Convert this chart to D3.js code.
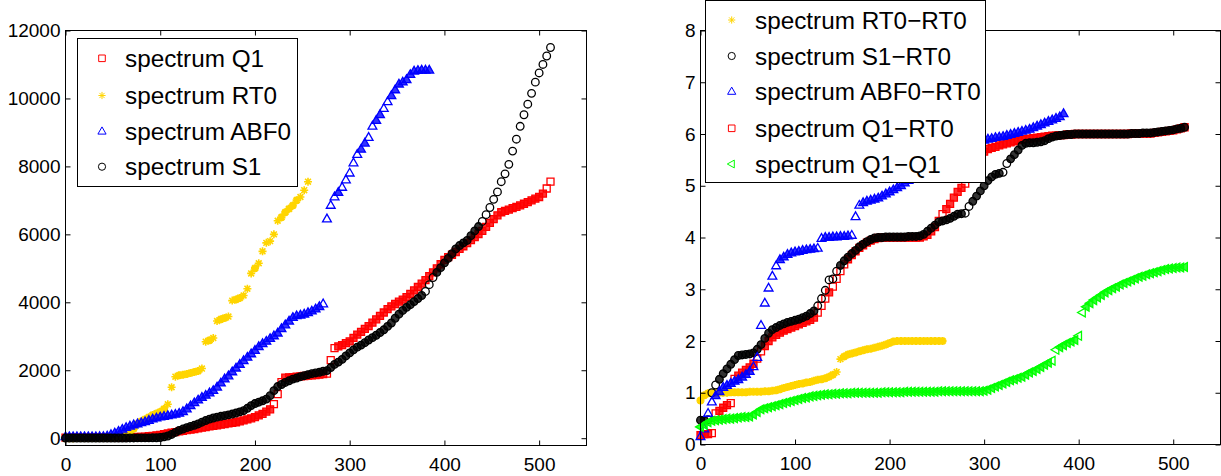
<!DOCTYPE html>
<html><head><meta charset="utf-8">
<script src="https://cdn.jsdelivr.net/npm/d3@7"></script>
<style>
body{margin:0;background:#fff}
svg{display:block}
text{font-family:"Liberation Sans",Arial,Helvetica,sans-serif;fill:#000}
</style>
</head><body>
<svg id="c" width="1221" height="476"></svg>
<script>
// ---------- data (index step 4) ----------
const STEP = 4;
const xTicks = [0,100,200,300,400,500];
const yTicksLeft = [0,2000,4000,6000,8000,10000,12000];
const yTicksRight = [0,1,2,3,4,5,6,7,8];

const leftNames = ["spectrum Q1","spectrum RT0","spectrum ABF0","spectrum S1"];
const rightNames = ["spectrum RT0\u2212RT0","spectrum S1\u2212RT0","spectrum ABF0\u2212RT0","spectrum Q1\u2212RT0","spectrum Q1\u2212Q1"];

const leftQ1 = [
15,15,15,15,18,18,18,20,20,20,20,22,22,25,25,25,
28,30,32,35,40,48,58,70,85,100,120,140,160,180,200,215,
235,255,270,290,310,325,345,360,380,400,415,435,450,470,495,525,
555,585,620,670,715,780,850,1000,1300,1650,1780,1790,1800,1810,1820,1830,
1840,1850,1860,1870,1885,1900,2300,2650,2700,2740,2800,2850,2950,3050,3130,3220,
3300,3400,3500,3600,3700,3800,3880,3950,4020,4080,4150,4250,4350,4450,4550,4650,
4770,4880,5000,5120,5250,5330,5400,5480,5570,5650,5740,5830,5920,6010,6100,6220,
6340,6450,6560,6650,6690,6730,6770,6810,6850,6900,6950,7000,7050,7100,7200,7350,
7550];
const leftRT0 = [
0,0,2,3,4,5,6,7,8,9,10,15,22,30,45,60,
110,170,280,420,500,560,620,680,730,780,860,1000,1500,1810,1850,1870,
1890,1920,1950,1980,2050,2840,2880,2950,3450,3500,3540,3580,4050,4080,4130,4200,
4400,4850,5000,5150,5500,5750,5800,6000,6400,6500,6650,6750,6850,7000,7100,7300,
7550];
const leftABF0 = [
40,40,40,40,40,40,40,40,40,42,45,60,100,150,200,260,
310,350,390,420,450,480,520,560,590,620,640,660,680,700,730,780,
860,950,1040,1120,1200,1260,1330,1400,1500,1620,1740,1830,1950,2060,2170,2280,
2380,2480,2580,2690,2780,2850,2930,3010,3090,3220,3330,3440,3550,3600,3620,3650,
3690,3740,3800,3870,3950,6450,6850,7100,7230,7380,7600,7800,8100,8350,8500,8680,
8850,9180,9350,9520,9700,9900,10080,10250,10420,10480,10550,10700,10800,10820,10830,10830,
10830];
const leftS1 = [
5,5,5,5,5,5,5,5,5,5,5,5,5,5,6,6,
6,7,7,8,8,9,10,11,12,20,40,65,110,170,230,270,
310,345,380,420,470,520,560,595,620,645,665,685,710,740,775,810,
880,960,1020,1060,1100,1150,1250,1400,1520,1580,1640,1690,1740,1770,1810,1840,
1870,1900,1920,1940,1970,1990,2080,2170,2240,2320,2420,2510,2600,2680,2740,2810,
2890,2960,3030,3110,3190,3290,3390,3530,3650,3760,3850,3930,4020,4110,4200,4320,
4520,4730,4880,5020,5160,5290,5430,5570,5670,5750,5820,5960,6100,6230,6380,6580,
6790,7030,7250,7550,7780,8060,8450,8800,9180,9520,9830,10150,10480,10750,11000,11250,
11500];

const rRT0RT0 = [
0.85,0.95,0.99,0.99,1.0,1.0,1.0,1.0,1.01,1.01,1.01,1.01,1.01,1.02,1.02,1.02,
1.02,1.03,1.03,1.04,1.05,1.07,1.09,1.11,1.13,1.15,1.17,1.18,1.2,1.21,1.23,1.25,
1.26,1.28,1.31,1.35,1.4,1.65,1.7,1.74,1.76,1.78,1.8,1.82,1.84,1.85,1.87,1.89,
1.91,1.93,1.96,1.99,2.0,2.0,2.0,2.0,2.0,2.0,2.0,2.0,2.0,2.0,2.0,2.0,
2.0];
const rS1RT0 = [
0.47,0.47,0.48,1.0,1.15,1.26,1.37,1.46,1.55,1.64,1.72,1.73,1.74,1.75,1.77,1.84,
1.93,2.05,2.15,2.22,2.26,2.3,2.33,2.36,2.38,2.4,2.42,2.45,2.48,2.53,2.58,2.68,
2.82,2.98,3.18,3.2,3.35,3.46,3.55,3.62,3.69,3.75,3.82,3.87,3.92,3.96,3.99,4.0,
4.0,4.01,4.01,4.01,4.01,4.01,4.01,4.02,4.02,4.02,4.03,4.06,4.12,4.18,4.24,4.3,
4.32,4.34,4.37,4.41,4.45,4.46,4.47,4.6,4.7,4.8,4.9,5.0,5.1,5.17,5.22,5.24,
5.26,5.43,5.52,5.6,5.69,5.78,5.82,5.83,5.83,5.84,5.85,5.87,5.91,5.94,5.96,5.97,
5.98,5.99,5.99,6.0,6.0,6.0,6.0,6.0,6.0,6.0,6.0,6.0,6.0,6.0,6.0,6.0,
6.0,6.0,6.01,6.01,6.01,6.02,6.02,6.02,6.03,6.04,6.05,6.06,6.07,6.08,6.1,6.11,
6.13];
const rABF0RT0 = [
0.15,0.3,0.6,0.82,0.94,1.02,1.1,1.14,1.18,1.22,1.25,1.3,1.35,1.41,1.5,1.68,
2.3,2.73,3.02,3.25,3.45,3.57,3.62,3.67,3.7,3.72,3.73,3.75,3.76,3.77,3.78,3.79,
3.98,4.0,4.0,4.01,4.01,4.02,4.02,4.03,4.04,4.4,4.62,4.67,4.7,4.72,4.74,4.76,
4.8,4.84,4.88,4.92,4.96,5.0,5.05,5.1,5.16,5.22,5.28,5.34,5.4,5.44,5.48,5.52,
5.56,5.6,5.64,5.68,5.72,5.76,5.8,5.82,5.84,5.85,5.87,5.88,5.9,5.91,5.93,5.94,
5.95,5.97,5.99,6.01,6.03,6.05,6.07,6.09,6.12,6.15,6.18,6.21,6.24,6.27,6.3,6.33,
6.39];
const rQ1RT0 = [
0.18,0.2,0.2,0.22,0.6,0.65,0.71,0.76,0.8,1.27,1.33,1.39,1.44,1.49,1.56,1.66,
1.8,1.9,2.0,2.07,2.12,2.16,2.2,2.23,2.26,2.29,2.32,2.35,2.38,2.41,2.45,2.55,
2.68,2.82,2.94,3.05,3.2,3.35,3.48,3.58,3.66,3.73,3.8,3.85,3.9,3.94,3.97,3.99,
4.0,4.0,4.0,4.0,4.0,4.0,4.0,4.0,4.0,4.0,4.0,4.02,4.05,4.12,4.2,4.32,
4.45,4.55,4.65,4.77,4.88,4.96,5.04,5.17,5.3,5.43,5.55,5.66,5.71,5.73,5.75,5.78,
5.8,5.82,5.84,5.86,5.88,5.89,5.9,5.91,5.92,5.93,5.94,5.95,5.96,5.97,5.97,5.98,
5.98,5.99,5.99,6.0,6.0,6.0,6.0,6.0,6.0,6.0,6.0,6.0,6.0,6.0,6.0,6.0,
6.0,6.0,6.01,6.01,6.01,6.01,6.01,6.01,6.02,6.03,6.04,6.05,6.06,6.07,6.09,6.11,
6.13];
const rQ1Q1 = [
0.34,0.38,0.43,0.46,0.47,0.48,0.49,0.5,0.5,0.51,0.52,0.53,0.53,0.54,0.58,0.63,
0.68,0.7,0.72,0.74,0.76,0.78,0.8,0.82,0.84,0.86,0.88,0.9,0.91,0.93,0.94,0.95,
0.96,0.97,0.97,0.98,0.98,0.99,0.99,0.99,1.0,1.0,1.0,1.0,1.0,1.0,1.0,1.0,
1.01,1.01,1.01,1.01,1.01,1.01,1.02,1.02,1.02,1.02,1.02,1.02,1.02,1.02,1.02,1.03,
1.03,1.03,1.03,1.03,1.03,1.03,1.03,1.03,1.03,1.03,1.03,1.04,1.06,1.09,1.12,1.15,
1.18,1.21,1.24,1.26,1.29,1.31,1.35,1.39,1.42,1.46,1.5,1.54,1.58,1.62,1.83,1.88,
1.92,1.96,1.99,2.02,2.1,2.55,2.66,2.73,2.79,2.84,2.89,2.94,2.98,3.02,3.05,3.09,
3.12,3.15,3.18,3.21,3.24,3.26,3.29,3.31,3.33,3.35,3.37,3.39,3.4,3.41,3.42,3.42,
3.43];

// ---------- drawing ----------
const svg = d3.select("#c");
const FS = 19;      // tick label size
const LFS = 24.3;   // legend font size
const MW = 1.3;     // marker stroke width in plot
const FILL_OP = 0.8; // dense overlapping hollow markers read as solid bands
const GAP = 7.5;    // px: markers farther apart than this stay hollow

const shapes = {
  square: "M-3.5,-3.5H3.5V3.5H-3.5Z",
  star: "M-4,0H4M0,-4V4M-2.9,-2.9L2.9,2.9M-2.9,2.9L2.9,-2.9",
  triUp: "M0,-4.9L4.4,2.8L-4.4,2.8Z",
  triLeft: "M-4.9,0L2.8,-4.4L2.8,4.4Z",
  circle: d3.symbol(d3.symbolCircle, Math.PI*3.8*3.8)()
};
const legendShapes = {
  square: "M-3.3,-3.3H3.3V3.3H-3.3Z",
  star: "M-3.6,0H3.6M0,-3.6V3.6M-2.6,-2.6L2.6,2.6M-2.6,2.6L2.6,-2.6",
  triUp: "M0,-4.6L4.1,2.6L-4.1,2.6Z",
  triLeft: "M-4.4,0L2.6,-3.9L2.6,3.9Z",
  circle: d3.symbol(d3.symbolCircle, Math.PI*3.6*3.6)()
};

function makeAxes(box, xDom, yDom) {
  const x = d3.scaleLinear().domain(xDom).range([box.l, box.r]);
  const y = d3.scaleLinear().domain(yDom).range([box.b, box.t]);
  const g = svg.append("g");
  return {x, y, g};
}

function finishAxes(ax, box, yTicks) {
  const {x, y} = ax;
  const g = svg.append("g");
  const TL = 5;
  const fmt = d3.format("d");
  g.append("g").attr("transform", `translate(0,${box.b})`)
    .call(d3.axisBottom(x).tickValues(xTicks).tickFormat(fmt).tickSize(-TL).tickPadding(TL+7).tickSizeOuter(0))
    .call(s => s.select(".domain").remove());
  g.append("g").attr("transform", `translate(0,${box.t})`)
    .call(d3.axisTop(x).tickValues(xTicks).tickSize(-TL).tickFormat("").tickSizeOuter(0))
    .call(s => s.select(".domain").remove());
  g.append("g").attr("transform", `translate(${box.l},0)`)
    .call(d3.axisLeft(y).tickValues(yTicks).tickFormat(fmt).tickSize(-TL).tickPadding(5).tickSizeOuter(0))
    .call(s => s.select(".domain").remove());
  g.append("g").attr("transform", `translate(${box.r},0)`)
    .call(d3.axisRight(y).tickValues(yTicks).tickSize(-TL).tickFormat("").tickSizeOuter(0))
    .call(s => s.select(".domain").remove());
  g.selectAll(".tick line").attr("stroke", "#000").attr("stroke-width", 1);
  g.selectAll("text").attr("font-size", FS).attr("font-family", '"Liberation Sans",Arial,sans-serif').attr("fill", "#000");
  g.append("rect").attr("x", box.l).attr("y", box.t)
    .attr("width", box.r - box.l).attr("height", box.b - box.t)
    .attr("fill", "none").attr("stroke", "#000").attr("stroke-width", 1);
  return g;
}

function drawSeries(ax, vals, shape, color) {
  const isStar = shape === "star";
  const pts = vals.map((v, i) => [ax.x(i*STEP), ax.y(v)]);
  const dist = (a, b) => Math.hypot(a[0]-b[0], a[1]-b[1]);
  const sparse = pts.map((p, i) => {
    const dp = i > 0 ? dist(p, pts[i-1]) : 0;
    const dn = i < pts.length-1 ? dist(p, pts[i+1]) : 0;
    return Math.max(dp, dn) > GAP;
  });
  ax.g.append("g").selectAll("path").data(pts).join("path")
    .attr("d", shapes[shape])
    .attr("transform", p => `translate(${p[0]},${p[1]})`)
    .attr("fill", (p, i) => (isStar || sparse[i]) ? "none" : color)
    .attr("fill-opacity", FILL_OP)
    .attr("stroke", color)
    .attr("stroke-width", (p, i) => isStar ? (sparse[i] ? 1.6 : 2.4) : MW);
}

function drawLegend(box, names, specs, rowY, markX, textX) {
  const g = svg.append("g");
  g.append("rect").attr("x", box.x).attr("y", box.y).attr("width", box.w).attr("height", box.h)
    .attr("fill", "#fff").attr("stroke", "#000").attr("stroke-width", 1);
  names.forEach((n, k) => {
    const cy = rowY[k];
    g.append("path").attr("d", legendShapes[specs[k].shape])
      .attr("transform", `translate(${markX},${cy})`)
      .attr("fill", "none").attr("stroke", specs[k].color).attr("stroke-width", 1);
    g.append("text").attr("x", textX).attr("y", cy + 8.6)
      .attr("font-size", LFS).text(n);
  });
}

const RED = "#ff0000", YEL = "#ffd500", BLUE = "#0000ff", BLK = "#000000", GRN = "#00ff00";

// left plot
const boxL = {l: 65.5, r: 586.5, t: 30.5, b: 445.5};
const axL = makeAxes(boxL, [0,550], [-215,12000]);
drawSeries(axL, leftQ1, "square", RED);
drawSeries(axL, leftRT0, "star", YEL);
drawSeries(axL, leftABF0, "triUp", BLUE);
drawSeries(axL, leftS1, "circle", BLK);
finishAxes(axL, boxL, yTicksLeft);
drawLegend({x:77.5, y:38.5, w:220, h:148}, leftNames,
  [{shape:"square",color:RED},{shape:"star",color:YEL},{shape:"triUp",color:BLUE},{shape:"circle",color:BLK}],
  [58.3, 95.5, 131.5, 166.7], 102, 125);

// right plot
const boxR = {l: 700.5, r: 1220.5, t: 30.5, b: 444.5};
const axR = makeAxes(boxR, [0,550], [0,8]);
drawSeries(axR, rRT0RT0, "star", YEL);
drawSeries(axR, rQ1RT0, "square", RED);
drawSeries(axR, rS1RT0, "circle", BLK);
drawSeries(axR, rABF0RT0, "triUp", BLUE);
drawSeries(axR, rQ1Q1, "triLeft", GRN);
finishAxes(axR, boxR, yTicksRight);
drawLegend({x:705.5, y:0.5, w:280, h:182}, rightNames,
  [{shape:"star",color:YEL},{shape:"circle",color:BLK},{shape:"triUp",color:BLUE},{shape:"square",color:RED},{shape:"triLeft",color:GRN}],
  [20, 56, 91.7, 128.3, 164], 731.7, 755);
</script>
</body></html>
